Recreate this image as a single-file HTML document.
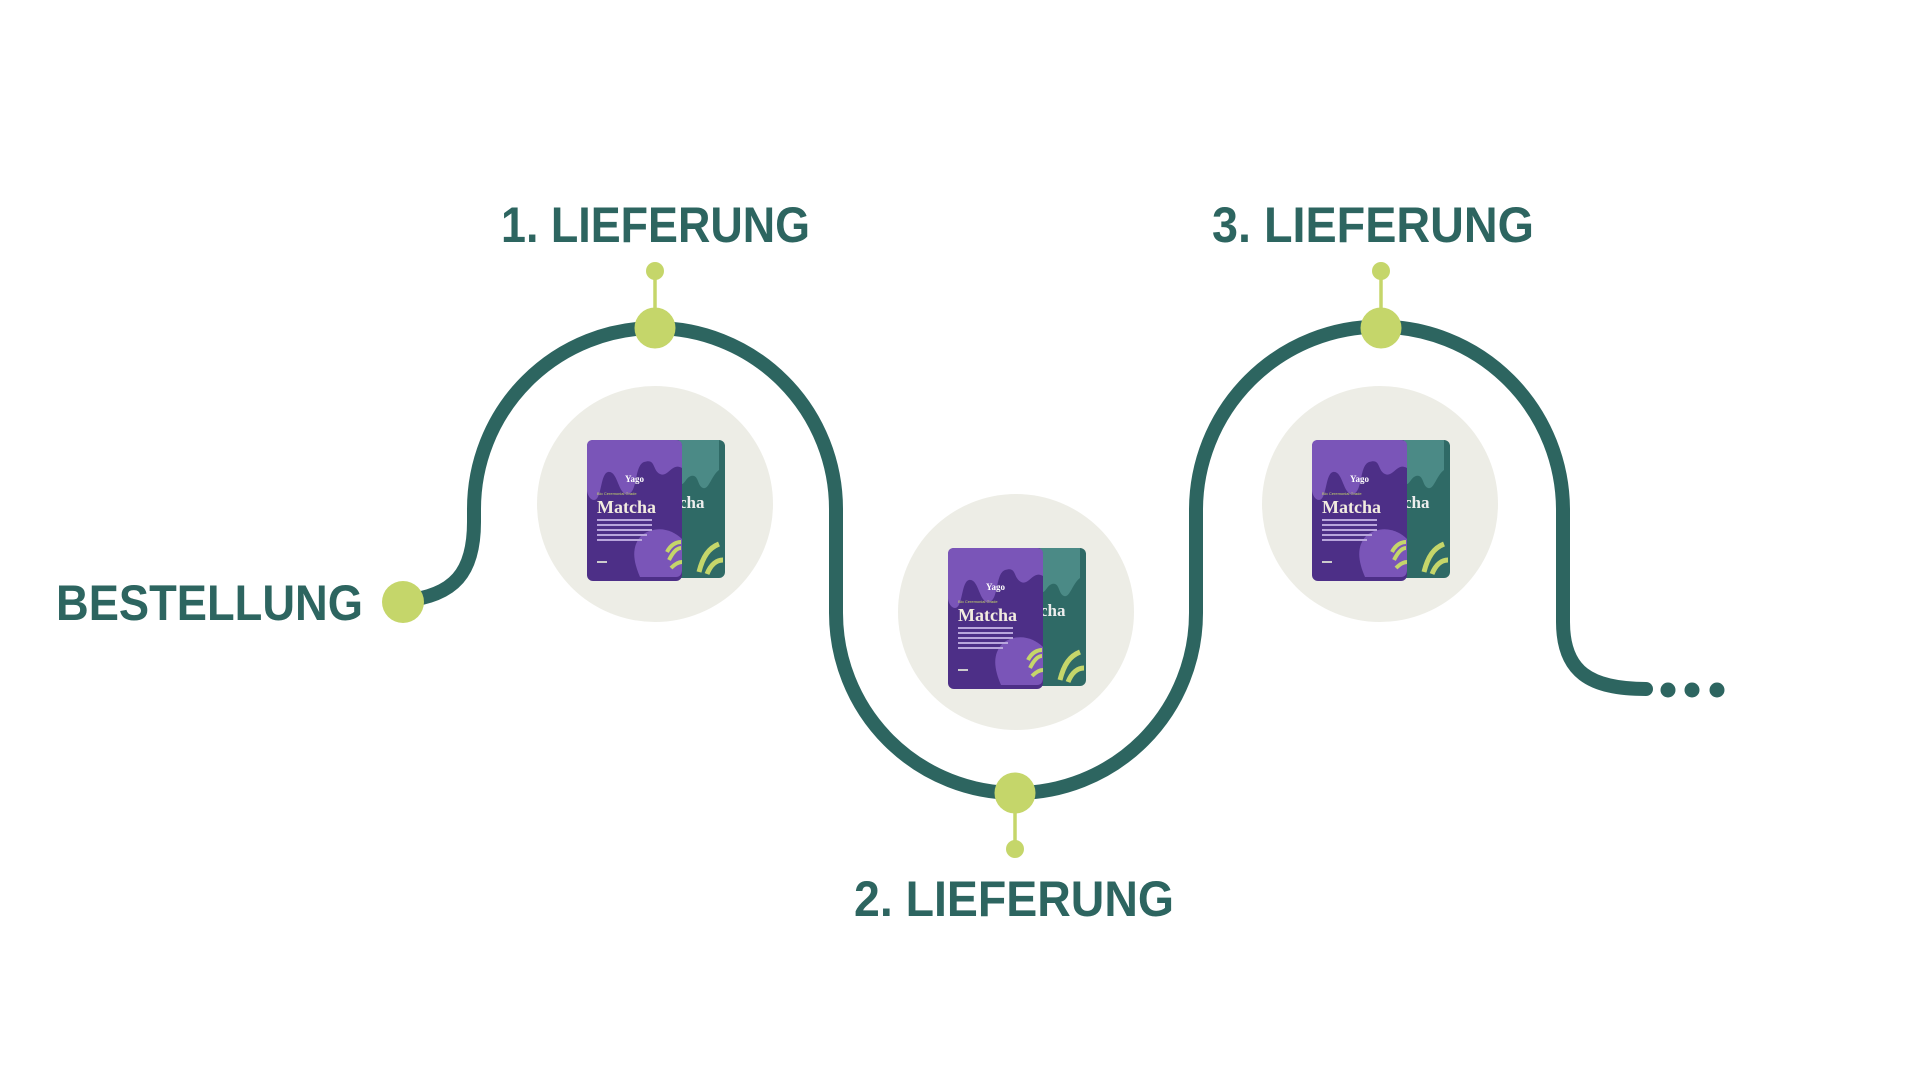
<!DOCTYPE html>
<html><head><meta charset="utf-8"><style>
html,body{margin:0;padding:0;background:#fff;width:1920px;height:1080px;overflow:hidden}
svg{display:block}
</style></head><body>
<svg width="1920" height="1080" viewBox="0 0 1920 1080" xmlns="http://www.w3.org/2000/svg">
<defs>
<g id="pack">
  <!-- teal pack behind -->
  <rect x="80" y="0" width="58" height="138" rx="6" fill="#2f6a66"/>
  <path d="M92 0 h40 v30 c-8 6 -10 20 -16 18 c-6 -2 -4 -14 -12 -12 c-6 2 -6 10 -12 8z" fill="#4b8a86"/>
  <text x="92" y="68" font-family="Liberation Serif, serif" font-weight="bold" font-size="17" fill="#eee">cha</text>
  <path d="M112 132 c4 -16 10 -24 20 -28 M120 134 c4 -10 10 -14 16 -14" stroke="#c5d66a" stroke-width="5" fill="none"/>
  <!-- purple pack -->
  <rect x="0" y="0" width="95" height="141" rx="6" fill="#4d2f87"/>
  <path d="M0 6 q0 -6 6 -6 h83 q6 0 6 6 v22 c-10 -6 -14 10 -22 6 c-8 -4 -4 -16 -16 -12 c-10 4 -6 30 -16 32 c-10 2 -10 -24 -20 -22 c-8 2 -6 28 -14 28 c-4 0 -7 -6 -7 -10z" fill="#7a55b8"/>
  <path d="M55 95 c14 -10 30 -6 40 4 v30 q0 8 -6 8 h-36 c-6 -14 -10 -30 2 -42z" fill="#7a55b8"/>
  <text x="38" y="42" font-family="Liberation Serif, serif" font-weight="bold" font-size="9" fill="#fff">Yago</text>
  <text x="10" y="55" font-family="Liberation Sans, sans-serif" font-size="4" fill="#c5d66a">Bio Ceremonial Grade</text>
  <text x="10" y="73" font-family="Liberation Serif, serif" font-weight="bold" font-size="18" fill="#f2ecdf">Matcha</text>
  <rect x="10" y="79" width="55" height="2" fill="#b9a6dc"/>
  <rect x="10" y="84" width="55" height="2" fill="#b9a6dc"/>
  <rect x="10" y="89" width="55" height="2" fill="#b9a6dc"/>
  <rect x="10" y="94" width="50" height="2" fill="#b9a6dc"/>
  <rect x="10" y="99" width="45" height="2" fill="#b9a6dc"/>
  <rect x="10" y="121" width="10" height="2" fill="#ccc"/>
  <path d="M82 120 c4 -8 8 -12 12 -12 M84 128 c4 -4 8 -6 11 -6 M80 112 c4 -8 10 -10 14 -10" stroke="#c5d66a" stroke-width="4" fill="none"/>
</g>
</defs>

<!-- circles -->
<circle cx="655" cy="504" r="118" fill="#ededE6"/>
<circle cx="1016" cy="612" r="118" fill="#ededE6"/>
<circle cx="1380" cy="504" r="118" fill="#ededE6"/>

<use href="#pack" x="587" y="440"/>
<use href="#pack" x="948" y="548"/>
<use href="#pack" x="1312" y="440"/>

<!-- main path -->
<path d="M403 601 C455 596 474 572 474 522 L474 509 A181 181 0 0 1 836 509 L836 613 A180 180 0 0 0 1196 613 L1196 510 A183.5 183.5 0 0 1 1563 510 L1563 622 C1563 672 1590 689 1646 689"
 fill="none" stroke="#2d6560" stroke-width="14" stroke-linecap="round"/>
<circle cx="1668" cy="690" r="7.5" fill="#2d6560"/>
<circle cx="1692" cy="690" r="7.5" fill="#2d6560"/>
<circle cx="1717" cy="690" r="7.5" fill="#2d6560"/>

<!-- nodes -->
<circle cx="403" cy="602" r="21" fill="#c5d66a"/>
<line x1="655" y1="271" x2="655" y2="328" stroke="#c5d66a" stroke-width="3.5"/>
<circle cx="655" cy="271" r="9" fill="#c5d66a"/>
<circle cx="655" cy="328" r="20.5" fill="#c5d66a"/>
<line x1="1381" y1="271" x2="1381" y2="328" stroke="#c5d66a" stroke-width="3.5"/>
<circle cx="1381" cy="271" r="9" fill="#c5d66a"/>
<circle cx="1381" cy="328" r="20.5" fill="#c5d66a"/>
<line x1="1015" y1="793" x2="1015" y2="849" stroke="#c5d66a" stroke-width="3.5"/>
<circle cx="1015" cy="849" r="9" fill="#c5d66a"/>
<circle cx="1015" cy="793" r="20.5" fill="#c5d66a"/>

<!-- labels -->
<g font-family="Liberation Sans, sans-serif" font-weight="bold" font-size="50" fill="#2d6560">
<text x="56" y="620" textLength="307" lengthAdjust="spacingAndGlyphs">BESTELLUNG</text>
<text x="501" y="242" textLength="309" lengthAdjust="spacingAndGlyphs">1. LIEFERUNG</text>
<text x="1212" y="242" textLength="322" lengthAdjust="spacingAndGlyphs">3. LIEFERUNG</text>
<text x="854" y="916" textLength="320" lengthAdjust="spacingAndGlyphs">2. LIEFERUNG</text>
</g>
</svg>
</body></html>
